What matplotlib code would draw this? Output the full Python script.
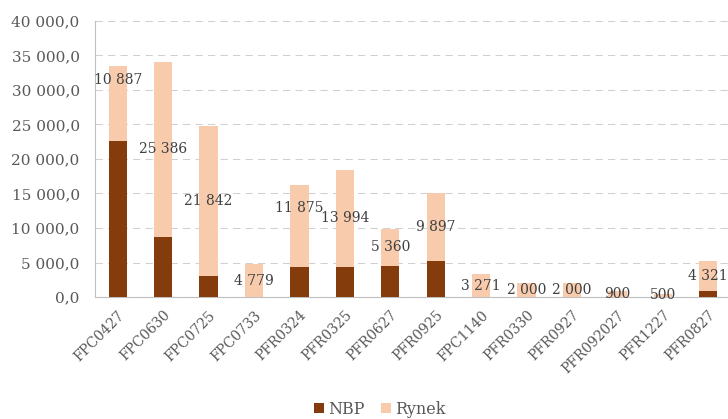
import matplotlib.pyplot as plt
from matplotlib.ticker import FuncFormatter, MultipleLocator

categories = ["FPC0427", "FPC0630", "FPC0725", "FPC0733", "PFR0324", "PFR0325",
              "PFR0627", "PFR0925", "FPC1140", "PFR0330", "PFR0927", "PFR092027",
              "PFR1227", "PFR0827"]
nbp = [22600, 8700, 3000, 0, 4400, 4400, 4500, 5200, 0, 0, 0, 0, 0, 900]
rynek = [10887, 25386, 21842, 4779, 11875, 13994, 5360, 9897, 3271, 2000, 2000, 900, 500, 4321]
# some labels were nudged up in the original to avoid overlaps
label_shift = [3400, 0, 0, 0, 2500, 0, 0, 0, 0, 0, 0, 0, 0, 0]

c_nbp = "#843C0C"
c_rynek = "#F8CBAD"
plt.rcParams['font.family'] = ['DejaVu Serif']

fig = plt.figure(figsize=(7.28, 4.19), dpi=100)
ax = fig.add_axes([95 / 728, 122 / 419, 636 / 728, 276 / 419])

x = list(range(len(categories)))
ax.bar(x, nbp, width=0.4, color=c_nbp, label="NBP", zorder=3)
ax.bar(x, rynek, width=0.4, bottom=nbp, color=c_rynek, label="Rynek", zorder=3)

def fmt_int(v):
    return f"{v:,}".replace(",", " ")

for i in x:
    y = nbp[i] + rynek[i] / 2 + label_shift[i]
    ax.text(i, y, fmt_int(rynek[i]), ha="center", va="center",
            fontsize=10, color="#404040", zorder=4)

ax.set_xlim(-0.5, len(categories) - 0.5)
ax.set_ylim(0, 40000)
ax.yaxis.set_major_locator(MultipleLocator(5000))
ax.yaxis.set_major_formatter(FuncFormatter(
    lambda v, p: f"{v:,.1f}".replace(",", " ").replace(".", ",")))
ax.grid(axis="y", color="#D0D0D0", linestyle=(0, (7, 5)), linewidth=0.75, zorder=0)

ax.set_xticks(x)
ax.set_xticklabels(categories, rotation=45, ha="right", rotation_mode="anchor",
                   fontsize=10, color="#595959")
ax.tick_params(axis="x", length=0, pad=8)
ax.tick_params(axis="y", length=0, pad=11, labelsize=11, labelcolor="#595959")

for s in ["top", "right"]:
    ax.spines[s].set_visible(False)
ax.spines["left"].set_color("#BFBFBF")
ax.spines["bottom"].set_color("#BFBFBF")

fig.legend(loc="center", bbox_to_anchor=(380 / 728, 1 - 409 / 419), ncol=2,
           frameon=False, fontsize=11.5, handlelength=0.6, handleheight=0.6,
           handletextpad=0.3, columnspacing=1.0, labelcolor="#595959")

fig.savefig("out.png", dpi=100)
